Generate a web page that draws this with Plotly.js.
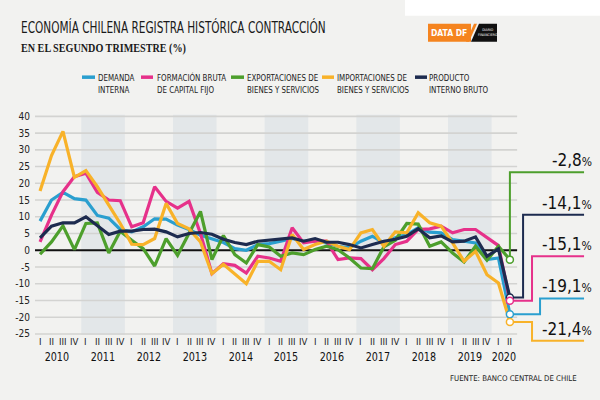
<!DOCTYPE html>
<html><head><meta charset="utf-8">
<script src="https://cdn.plot.ly/plotly-3.0.1.min.js"></script>
<style>html,body{margin:0;padding:0;background:#f2f2f0}</style>
</head><body><div id="chart" style="width:600px;height:400px"></div>
<script>
// ---------- DATA ----------
const quarterLabels = ['I','II','III','IV','I','II','III','IV','I','II','III','IV','I','II','III','IV',
  'I','II','III','IV','I','II','III','IV','I','II','III','IV','I','II','III','IV',
  'I','II','III','IV','I','II','III','IV','I','II'];
const years = ['2010','2011','2012','2013','2014','2015','2016','2017','2018','2019','2020'];
const demandaInterna = [8.7, 15.0, 17.3, 15.4, 15.0, 10.4, 9.6, 6.2, 5.5, 7.0, 9.4, 9.3, 7.5, 6.2, 4.5, 3.5, 2.3, 0.5, 0.0, 1.7, 2.0, 2.7, 3.5, 2.7, 2.7, 2.2, 1.2, 0.7, 2.7, 4.2, 2.2, 3.7, 4.7, 6.7, 5.4, 5.2, 3.2, 2.7, 2.2, -2.8, -2.3, -19.1];
const formacionBruta = [2.5, 10.5, 17.5, 22.0, 23.0, 17.3, 15.0, 14.8, 7.0, 8.2, 19.0, 14.6, 12.6, 14.6, 5.0, -7.0, -4.0, -4.5, -6.8, -1.8, -2.3, -3.3, 6.7, 2.2, 2.7, 2.7, -2.8, -2.3, -2.5, -5.8, -2.5, 1.7, 2.7, 6.2, 6.4, 7.2, 5.2, 6.2, 6.2, 3.9, 1.4, -15.1];
const exportaciones = [-1.2, 2.5, 7.3, 0.2, 8.0, 8.2, -0.8, 5.7, 3.0, 0.5, -4.7, 3.5, -1.5, 5.2, 11.6, -2.8, 4.4, -1.3, -3.8, 1.7, 1.0, -1.8, -0.8, -1.3, 0.2, 1.2, 0.2, -2.3, -5.3, -5.5, 1.0, 3.0, 8.0, 7.8, 1.2, 2.5, -0.8, -3.5, 1.2, -3.0, 1.2, -2.8];
const importaciones = [17.7, 28.3, 35.5, 21.8, 23.8, 19.0, 13.5, 8.0, 1.8, 1.7, 3.5, 14.0, 8.0, 6.4, 2.5, -7.0, -4.2, -7.2, -10.0, -3.3, -3.3, -5.8, 4.7, 0.2, 1.7, 2.7, 1.2, 0.2, 5.2, 6.2, 1.2, 5.5, 5.2, 11.2, 8.2, 7.2, 2.2, -3.3, -0.3, -7.3, -9.8, -21.4];
const pib = [3.7, 7.2, 8.2, 8.2, 10.0, 7.2, 4.7, 5.7, 5.7, 6.2, 6.3, 5.5, 4.0, 5.0, 5.3, 4.8, 3.3, 2.3, 1.7, 2.7, 3.0, 3.2, 3.7, 2.7, 3.5, 2.4, 2.4, 1.7, 0.7, 1.7, 2.7, 3.3, 4.2, 6.4, 3.7, 4.3, 2.5, 2.7, 4.0, -1.8, 0.4, -14.1];
const yTickVals = [-25, -20, -15, -10, -5, 0, 5, 10, 15, 20, 25, 30, 35, 40];
const yTickText = ['-25', '-20', '-15', '-10', '-5', '0', '5', '10', '15', '20', '25', '30', '35', '40'];
const finalLabels = ['-2,8', '-14,1', '-15,1', '-19,1', '-21,4'];

// ---------- STYLE / LAYOUT ----------
const W = 600, H = 400, L = 35, R = 10, T = 113.35, B = 55.5;
const pw = W - L - R, ph = H - T - B;
const px2x = px => (px - L) / pw;
const px2y = py => (H - B - py) / ph;
const NARROW = '"Liberation Sans Narrow", "DejaVu Sans Condensed", Roboto, sans-serif';
const TXT = '#222222';

const series = [
  {name: 'demanda', y: demandaInterna, color: '#2a9fcf', leg: ['DEMANDA', 'INTERNA'], sw: [82, 95], tx: 96},
  {name: 'fbcf', y: formacionBruta, color: '#e6318a', leg: ['FORMACIÓN BRUTA', 'DE CAPITAL FIJO'], sw: [141, 153], tx: 155},
  {name: 'export', y: exportaciones, color: '#4d9f2c', leg: ['EXPORTACIONES DE', 'BIENES Y SERVICIOS'], sw: [231, 244], tx: 245},
  {name: 'import', y: importaciones, color: '#f8b229', leg: ['IMPORTACIONES DE', 'BIENES Y SERVICIOS'], sw: [322, 334], tx: 335},
  {name: 'pib', y: pib, color: '#1d2b4f', leg: ['PRODUCTO', 'INTERNO BRUTO'], sw: [415, 427], tx: 427}
];
// connector order: export, pib, fbcf, demanda, import
const connOrder = [2, 4, 1, 0, 3];
const connStepX = [41, 42.15, 42.93, 43.63, 42.93];
const connLevel = [23.3, 10.6, -1.8, -14.4, -27.0];
const connEndX = 47.47;

const xIdx = quarterLabels.map((_, i) => i);
const lastIdx = xIdx.length - 1;

const traces = [];
[0, 1, 2, 3, 4].forEach(k => {
  const s = series[k];
  traces.push({x: xIdx, y: s.y, type: 'scatter', mode: 'lines',
    line: {color: s.color, width: 3.2}, showlegend: false, hoverinfo: 'skip'});
});
connOrder.forEach((k, j) => {
  const s = series[k];
  const v = s.y[lastIdx];
  traces.push({x: [lastIdx, connStepX[j], connStepX[j], connEndX], y: [v, v, connLevel[j], connLevel[j]],
    type: 'scatter', mode: 'lines', line: {color: s.color, width: 2}, showlegend: false, hoverinfo: 'skip'});
});
connOrder.forEach(k => {
  const s = series[k];
  traces.push({x: [lastIdx], y: [s.y[lastIdx]], type: 'scatter', mode: 'markers',
    marker: {symbol: 'circle', size: 7, color: '#ffffff', line: {color: s.color, width: 1.5}},
    showlegend: false, hoverinfo: 'skip'});
});

const shapes = [];
shapes.push({type: 'rect', xref: 'paper', yref: 'paper', x0: px2x(405), x1: px2x(600), y0: px2y(16), y1: px2y(0),
  fillcolor: '#ffffff', line: {width: 0}, layer: 'below'});
years.forEach((yr, yi) => {
  if (yi % 2 === 1) {
    const s = yi * 4;
    shapes.push({type: 'rect', xref: 'x', yref: 'y', x0: s - 0.4, x1: s + 3.4, y0: -25.3, y1: 40.5,
      fillcolor: '#e3e7e9', line: {width: 0}, layer: 'below'});
  }
});
yTickVals.forEach(v => {
  if (v !== 0) shapes.push({type: 'line', xref: 'x', yref: 'y', x0: -0.44, x1: 41.63, y0: v, y1: v,
    line: {color: '#d3d3d1', width: 1.6}, layer: 'below'});
});
shapes.push({type: 'line', xref: 'x', yref: 'y', x0: -0.44, x1: 41.63, y0: 0, y1: 0,
  line: {color: '#111111', width: 1.8}, layer: 'below'});
series.forEach(s => {
  shapes.push({type: 'line', xref: 'paper', yref: 'paper', x0: px2x(s.sw[0]), x1: px2x(s.sw[1]), y0: px2y(77.5), y1: px2y(77.5),
    line: {color: s.color, width: 3.5}});
});
shapes.push({type: 'rect', xref: 'paper', yref: 'paper', x0: px2x(428), x1: px2x(471), y0: px2y(42), y1: px2y(24),
  fillcolor: '#f5841f', line: {width: 0}});
const pth = pts => 'M ' + pts.map(p => px2x(p[0]) + ',' + px2y(p[1])).join(' L ') + ' Z';
shapes.push({type: 'path', xref: 'paper', yref: 'paper', path: pth([[471, 42], [479, 24], [497, 24], [497, 42]]),
  fillcolor: '#111111', line: {width: 0}});
shapes.push({type: 'path', xref: 'paper', yref: 'paper', path: pth([[466, 42], [474, 24], [477, 24], [469, 42]]),
  fillcolor: '#f5841f', line: {width: 0}});

const annotations = [];
const squeeze = []; // [annotation index, horizontal factor, anchor]
const ann = (o, f) => {
  annotations.push(Object.assign({showarrow: false, xref: 'paper', yref: 'paper'}, o));
  if (f) squeeze.push([annotations.length - 1, f, o.xanchor || 'center']);
};
ann({x: px2x(19), y: px2y(28), xanchor: 'left', yanchor: 'middle', text: 'ECONOMÍA CHILENA REGISTRA HISTÓRICA CONTRACCIÓN',
  font: {family: NARROW, size: 15, color: '#1a1a1a'}}, 0.78);
ann({x: px2x(19), y: px2y(48), xanchor: 'left', yanchor: 'middle', text: '<b>EN EL SEGUNDO TRIMESTRE (%)</b>',
  font: {family: '"Liberation Serif", "DejaVu Serif", serif', size: 13, color: '#1a1a1a'}}, 0.78);
series.forEach(s => {
  ann({x: px2x(s.tx), y: px2y(78), xanchor: 'left', yanchor: 'middle', text: s.leg[0], font: {family: NARROW, size: 9.5, color: TXT}}, 0.83);
  ann({x: px2x(s.tx), y: px2y(89.5), xanchor: 'left', yanchor: 'middle', text: s.leg[1], font: {family: NARROW, size: 9.5, color: TXT}}, 0.83);
});
quarterLabels.forEach((q, i) => {
  annotations.push({showarrow: false, xref: 'x', yref: 'paper', x: i, y: px2y(342), xanchor: 'center', yanchor: 'middle',
    text: q, font: {family: NARROW, size: 9.5, color: TXT}});
});
years.forEach((yr, yi) => {
  const idx = xIdx.filter(i => Math.floor(i / 4) === yi);
  const c = idx.reduce((a, b) => a + b, 0) / idx.length;
  annotations.push({showarrow: false, xref: 'x', yref: 'paper', x: c, y: px2y(357), xanchor: 'center', yanchor: 'middle',
    text: yr, font: {family: NARROW, size: 13, color: '#111111'}});
  squeeze.push([annotations.length - 1, 0.82, 'center']);
});
ann({x: px2x(579), y: px2y(379), xanchor: 'right', yanchor: 'middle', text: 'FUENTE: BANCO CENTRAL DE CHILE',
  font: {family: NARROW, size: 7.8, color: TXT}});
connOrder.forEach((k, j) => {
  annotations.push({showarrow: false, xref: 'paper', yref: 'y', x: px2x(594), y: connLevel[j], xanchor: 'right', yanchor: 'bottom',
    text: finalLabels[j] + '<span style="font-size:12px">%</span>', font: {family: NARROW, size: 17, color: '#111111'}});
});
ann({x: px2x(449), y: px2y(33.5), xanchor: 'center', yanchor: 'middle', text: '<b>DATA DF</b>',
  font: {family: NARROW, size: 8.5, color: '#ffffff'}});
ann({x: px2x(488), y: px2y(33), xanchor: 'center', yanchor: 'middle', text: 'DIARIO<br>FINANCIERO',
  font: {family: NARROW, size: 3.5, color: '#ffffff'}});

const layout = {
  width: W, height: H,
  margin: {l: L, r: R, t: T, b: B, pad: 0},
  paper_bgcolor: '#f2f2f0', plot_bgcolor: 'rgba(0,0,0,0)',
  showlegend: false,
  xaxis: {range: [-0.44, -0.44 + pw / 11.46], showgrid: false, zeroline: false, showticklabels: false, ticks: '', showline: false, fixedrange: true},
  yaxis: {range: [-28, 41], showgrid: false, zeroline: false, tickmode: 'array', tickvals: yTickVals, ticktext: yTickText,
    ticks: '', showline: false, ticklabelstandoff: 4, tickfont: {family: NARROW, size: 10, color: TXT}, fixedrange: true},
  shapes: shapes,
  annotations: annotations
};
Plotly.newPlot('chart', traces, layout, {displayModeBar: false, staticPlot: true}).then(() => {
  squeeze.forEach(([idx, f, anchor]) => {
    const t = document.querySelector('g.annotation[data-index="' + idx + '"] text.annotation-text');
    if (!t) return;
    const b0 = t.getBBox();
    const w = t.getComputedTextLength();
    t.setAttribute('textLength', (w * f).toFixed(2));
    t.setAttribute('lengthAdjust', 'spacingAndGlyphs');
    const b1 = t.getBBox();
    let dx;
    if (anchor === 'left') dx = b0.x - b1.x;
    else if (anchor === 'right') dx = (b0.x + b0.width) - (b1.x + b1.width);
    else dx = (b0.x + b0.width / 2) - (b1.x + b1.width / 2);
    const x0 = parseFloat(t.getAttribute('x') || '0');
    t.setAttribute('x', (x0 + dx).toFixed(2));
  });
});
</script>
</body></html>
